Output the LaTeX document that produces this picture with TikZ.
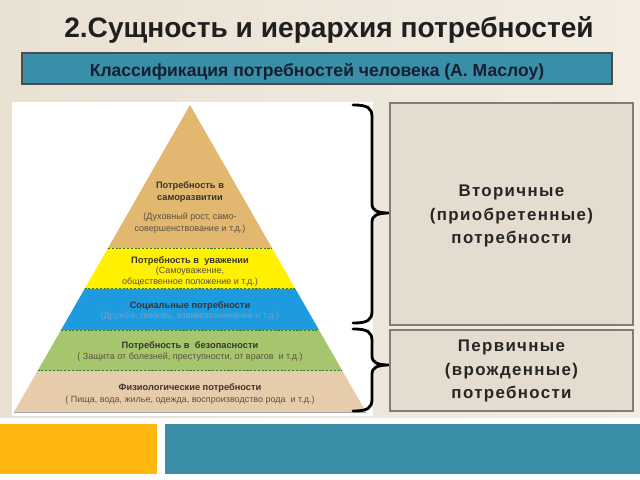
\documentclass[tikz,border=0pt]{standalone}
\usepackage{fontspec}
\setmainfont{Liberation Sans}
\newfontfamily\spacedfont[LetterSpace=8]{Liberation Sans}
\usetikzlibrary{calc}

\definecolor{paper}{RGB}{233,225,210}
\definecolor{paperlight}{RGB}{242,236,226}
\definecolor{barblue}{RGB}{58,143,168}
\definecolor{bartext}{RGB}{22,30,48}
\definecolor{boxfill}{RGB}{228,221,207}
\definecolor{boxline}{RGB}{128,126,116}
\definecolor{lvltop}{RGB}{226,183,112}
\definecolor{lvlyellow}{RGB}{255,241,0}
\definecolor{lvlblue}{RGB}{30,155,222}
\definecolor{lvlgreen}{RGB}{166,198,110}
\definecolor{lvlbase}{RGB}{230,204,170}
\definecolor{headgray}{RGB}{58,52,46}
\definecolor{notegray}{RGB}{92,80,66}
\definecolor{notefaint}{RGB}{112,162,200}
\definecolor{stripeorange}{RGB}{255,183,16}
\definecolor{stripeteal}{RGB}{58,142,166}

\begin{document}
\begin{tikzpicture}[x=0.025cm,y=-0.025cm,
    lvlhead/.style={font=\fontsize{6.6}{8}\selectfont\bfseries, text=headgray, align=center, inner sep=0pt},
    lvlnote/.style={font=\fontsize{6.4}{8.2}\selectfont, text=notegray, align=center, inner sep=0pt},
    needbox/.style={fill=boxfill, draw=boxline, line width=0.8pt},
    needtext/.style={font=\spacedfont\fontsize{12}{16.5}\selectfont\bfseries, text=black!85, align=center},
    bracket/.style={line width=2pt, line cap=round, line join=round},
    layerline/.style={draw=black!55!green!60!gray, line width=0.6pt, dash pattern=on 1.5pt off 1.2pt}]
    \useasboundingbox (0,0) rectangle (640,480);

    % paper background and bottom stripes
    \shade[left color=paper, right color=paperlight] (0,0) rectangle (640,418);
    \fill[white] (0,418) rectangle (640,480);
    \fill[stripeorange] (0,424) rectangle (157,474);
    \fill[stripeteal] (165,424) rectangle (640,474);

    % headings
    \node[anchor=base, font=\fontsize{20}{23}\selectfont\bfseries, text=black!88] (title) at (329,37)
        {2.Сущность и иерархия потребностей};
    \draw[fill=barblue, draw=black!70, line width=0.8pt] (22,53) rectangle (612,84);
    \node[anchor=base, font=\fontsize{12.5}{14}\selectfont\bfseries, text=bartext] (subtitle) at (317,76)
        {Классификация потребностей человека (А. Маслоу)};

    % pyramid
    \fill[white] (12,102) rectangle (373,416);
    \coordinate (apex) at (190,105);
    \coordinate (bl) at (14,412);
    \coordinate (br) at (366,412);
    \foreach \ta/\tb/\col in {0/0.466/lvltop, 0.466/0.599/lvlyellow, 0.599/0.733/lvlblue,
                              0.733/0.866/lvlgreen, 0.866/1/lvlbase}
    {
        \fill[\col] ($(apex)!\ta!(bl)$) -- ($(apex)!\tb!(bl)$) -- ($(apex)!\tb!(br)$) -- ($(apex)!\ta!(br)$) -- cycle;
    }
    \foreach \t in {0.466,0.599,0.733,0.866}
    {
        \draw[layerline] ($(apex)!\t!(bl)$) -- ($(apex)!\t!(br)$);
    }
    \draw[black!35, line width=0.6pt] (bl) -- (br);

    \node[lvlhead] (selfhead) at (190,192) {Потребность в\\саморазвитии};
    \node[lvlnote] (selfnote) at (190,223) {(Духовный рост, само-\\совершенствование и т.д.)};
    \node[lvlhead] (esteemhead) at (190,261) {Потребность в\ \ уважении};
    \node[lvlnote] (esteemnote) at (190,276.5) {(Самоуважение,\\общественное положение и т.д.)};
    \node[lvlhead] (socialhead) at (190,306) {Социальные потребности};
    \node[lvlnote, text=notefaint] (socialnote) at (190,316) {(Дружба, любовь, взаимопонимание и т.д.)};
    \node[lvlhead] (safetyhead) at (190,346) {Потребность в\ \ безопасности};
    \node[lvlnote] (safetynote) at (190,357) {( Защита от болезней, преступности, от врагов\ \ и т.д.)};
    \node[lvlhead] (bodyhead) at (190,388) {Физиологические потребности};
    \node[lvlnote] (bodynote) at (190,400) {( Пища, вода, жилье, одежда, воспроизводство рода\ \ и т.д.)};

    % braces
    \foreach \ya/\ym/\yb in {105/213/323, 329/365/411}
    {
        \draw[bracket] (353,\ya) .. controls (368,\ya) and (372,\ya+3) .. (372,\ya+12)
            -- (372,\ym-9) .. controls (372,\ym-2) and (378,\ym) .. (390,\ym)
            .. controls (378,\ym) and (372,\ym+2) .. (372,\ym+9)
            -- (372,\yb-12) .. controls (372,\yb-3) and (368,\yb) .. (353,\yb);
    }

    % groups of needs
    \draw[needbox] (390,103) rectangle (633,325);
    \node[needtext] (secondary) at (511.5,216) {Вторичные\\(приобретенные)\\потребности};
    \draw[needbox] (390,330) rectangle (633,411);
    \node[needtext] (primary) at (511.5,371) {Первичные\\(врожденные)\\потребности};

\end{tikzpicture}
\end{document}
